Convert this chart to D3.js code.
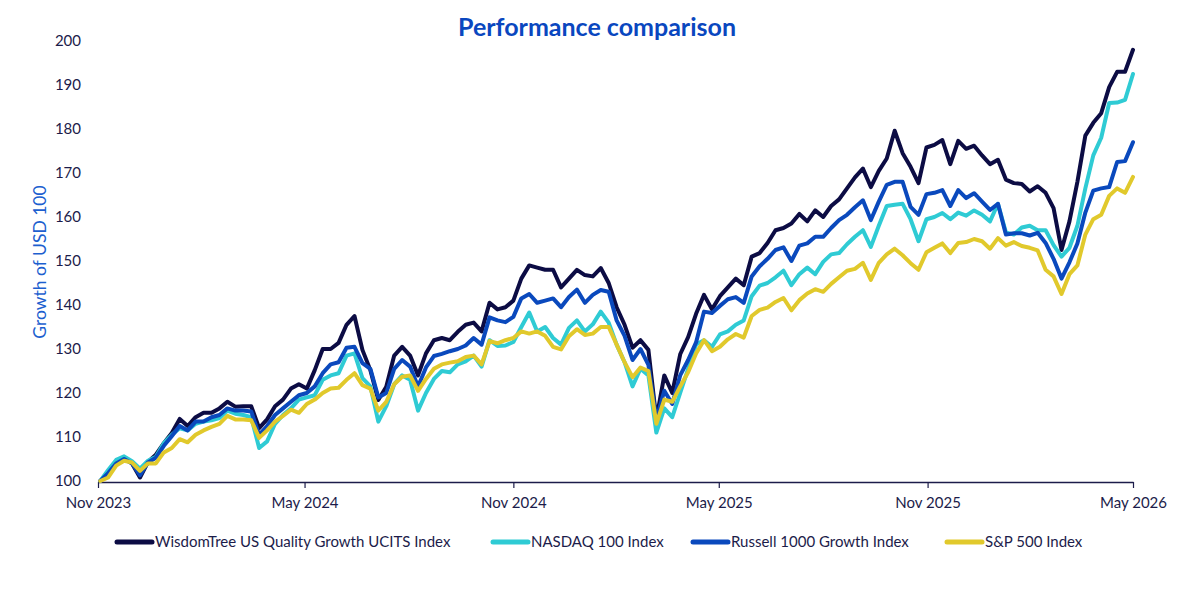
<!DOCTYPE html>
<html>
<head>
<meta charset="utf-8">
<script src="https://cdn.jsdelivr.net/npm/d3@7"></script>
<style>
  body { margin: 0; background: #fff; font-family: Lato, "Noto Sans", sans-serif; }
  svg { display: block; }
  .tick text { font-family: Lato, sans-serif; }
</style>
</head>
<body>
<script>
// Constant
const w = 1200;
const h = 592;

// Series names and colours (legend order)
const seriesNames = ['WisdomTree US Quality Growth UCITS Index', 'NASDAQ 100 Index', 'Russell 1000 Growth Index', 'S&P 500 Index'];
const seriesColors = ['#0c0c44', '#2fcbd4', '#0a49bd', '#e1c92c'];

// Axis ticks
const yTicks = [100, 110, 120, 130, 140, 150, 160, 170, 180, 190, 200];
const xTickDates = ['2023-11-01', '2024-05-01', '2024-11-01', '2025-05-01', '2025-11-01', '2026-05-01'];

// Weekly observations, first one on 3 Nov 2023
const startDate = '2023-11-03';

// Growth of USD 100
const wisdomTree = [100, 101.5, 104, 105.2, 104, 100.8, 104.3, 106, 108.6, 110.9,
  114.1, 112.5, 114.5, 115.5, 115.5, 116.5, 118, 116.9, 117, 117,
  112, 114, 117, 118.5, 121, 122, 121, 125.2, 130, 130,
  131.4, 135.5, 137.5, 129.8, 125.2, 118.4, 121.4, 128.5, 130.5, 128.5,
  124, 129, 132, 132.5, 132, 133.9, 135.5, 136, 134, 140.5,
  139, 139.5, 141, 146, 149, 148.5, 148, 148, 144, 146,
  148, 146.8, 146.5, 148.4, 145, 139.5, 135.5, 130.3, 132, 129.8,
  114, 124, 120, 128.8, 132.7, 138, 142.3, 139, 142, 144,
  146, 144.5, 151, 151.8, 154.1, 157, 157.5, 158.5, 160.7, 159,
  161.5, 160, 162.5, 164, 166.5, 169, 171, 166.8, 170.5, 173.3,
  179.6, 174.5, 171.4, 167.7, 175.8, 176.4, 177.5, 172, 177.3, 175.5,
  176.2, 174, 172, 173, 168.5, 167.7, 167.5, 165.8, 167, 165.5,
  162, 152.5, 159, 168, 178.5, 181.4, 183.6, 189.5, 193, 193,
  198];

const nasdaq = [100, 102.5, 104.8, 105.6, 104.5, 102.8, 104.6, 105.5, 108.6, 110.5,
  112, 111.5, 113, 113.5, 113.8, 114.3, 116, 115.3, 115, 114.5,
  107.5, 109, 113, 115, 116.5, 118.5, 119, 119.5, 123, 124,
  124.5, 128.5, 129, 123.4, 121.5, 113.5, 117, 122, 124, 123,
  116, 120, 123.2, 125, 124.7, 126.5, 127.2, 128.5, 126, 132,
  130.7, 130.8, 131.6, 135, 138.3, 134, 135, 132.5, 131, 134.8,
  136.5, 134, 135.6, 138.5, 136, 131, 127, 121.5, 125.5, 124,
  111, 116.5, 114.5, 120, 125.5, 131, 132, 130.5, 133.3, 134,
  135.5, 136.5, 142, 144.4, 145, 146.3, 147.8, 144.5, 147, 148.5,
  147, 149.8, 151.5, 151.8, 153.8, 155.5, 157, 153.2, 158, 162.5,
  162.8, 163, 159.5, 154.5, 159.5, 160, 160.9, 159.5, 161, 160.3,
  161.5, 160.5, 159, 163, 156.5, 156, 157.6, 158, 157, 157,
  153.6, 151, 153, 158, 166.5, 174, 178, 185.9, 186, 186.6,
  192.5];

const russell = [100, 101.8, 104, 105, 104, 101.3, 104.2, 105.3, 108, 110.2,
  112.5, 111.5, 113.5, 113.5, 114.5, 115, 116.5, 116, 116, 115.8,
  110.5, 112.5, 115, 116.5, 118, 119.5, 120, 121.5, 124.5, 126.5,
  127, 130.3, 130.5, 126.8, 125.5, 119, 120, 125.5, 127.5, 126,
  121.5, 125.8, 128.4, 128.9, 129.5, 130, 130.8, 132.5, 131, 137.2,
  136.5, 136.1, 137.3, 141.5, 142.5, 140.5, 141, 141.5, 139.5, 141.8,
  143.5, 140.5, 142.3, 143.4, 143, 136.5, 133, 127.5, 130, 126.4,
  114, 120.5, 117.5, 124, 127.5, 131.5, 138.5, 138.2, 139.8, 141.3,
  141.8, 140.5, 146.5, 148.8, 150.5, 152.5, 153.1, 150, 153.5, 154,
  155.5, 155.5, 157.5, 159.3, 160.5, 162.2, 163.8, 159.3, 163.5, 167.3,
  168, 168, 162.3, 160.5, 165.2, 165.5, 166.1, 162.5, 166.1, 164.3,
  165.4, 163.5, 161.6, 163, 156, 156.3, 156.3, 155.8, 156.4, 154.1,
  150.5, 146, 149.7, 154, 161, 166, 166.5, 166.8, 172.5, 172.7,
  177];

const sp500 = [100, 100.8, 103.5, 104.6, 104.2, 102.3, 104, 104, 106.5, 107.5,
  109.5, 108.8, 110.5, 111.5, 112.3, 113, 114.8, 114, 114, 113.8,
  109.8, 111.5, 113.5, 114.8, 116.2, 115.5, 117.5, 118.5, 120, 121,
  121.2, 123, 124.5, 121.8, 121, 116, 118, 122, 123.7, 124,
  120.5, 123.2, 125.5, 126.5, 126.9, 127.2, 128.2, 128.5, 126.5, 131.8,
  131.3, 132, 132.5, 134, 133.5, 134, 133, 130.5, 129.9, 132.9,
  134.5, 133.2, 133.5, 135, 135, 131, 127, 123.6, 125.8, 125,
  113, 118.5, 118, 121.5, 124.7, 129, 132, 129.5, 130.5, 132.2,
  133.4, 132.6, 137.5, 138.9, 139.4, 140.7, 141.6, 138.8, 141.1, 142.6,
  143.6, 143, 144.8, 146.3, 147.8, 148.2, 149.6, 145.7, 149.6, 151.5,
  152.8, 151.3, 149.5, 148, 152, 153, 154, 151.8, 154.1, 154.3,
  155, 154.5, 152.8, 155.2, 153.5, 154.3, 153.4, 153, 152.4, 148,
  146.5, 142.5, 147, 149, 156, 159.5, 160.5, 164.8, 166.5, 165.5,
  169.1];

const seriesValues = [wisdomTree, nasdaq, russell, sp500];

// Build the table used by the line generator
const parse = d3.timeParse('%Y-%m-%d');
const dates = wisdomTree.map((v, i) => d3.timeWeek.offset(parse(startDate), i));
const series = seriesNames.map((name, j) => ({
  name: name,
  color: seriesColors[j],
  values: seriesValues[j].map((v, i) => ({ date: dates[i], value: v }))
}));

// Create the svg canvas
const svg = d3.select('body')
  .append('svg')
  .attr('width', w)
  .attr('height', h);

// Scales
const x = d3.scaleTime()
  .domain([parse(xTickDates[0]), parse(xTickDates[xTickDates.length - 1])])
  .range([98, 1133]);
const y = d3.scaleLinear()
  .domain([100, 200])
  .range([481, 41]);

// Title
svg.append('text')
  .attr('x', 597)
  .attr('y', 36)
  .attr('text-anchor', 'middle')
  .style('font-family', 'Lato, sans-serif')
  .style('font-weight', 'bold')
  .style('font-size', '25px')
  .style('fill', '#0a47bf')
  .text('Performance comparison');

// Y axis (labels only)
const yAxis = svg.append('g')
  .attr('transform', 'translate(98,0)')
  .call(d3.axisLeft(y).tickValues(yTicks).tickSize(0).tickPadding(17));
yAxis.select('.domain').remove();
yAxis.selectAll('text')
  .style('font-size', '15px')
  .style('fill', '#1c1c4a');

svg.append('text')
  .attr('transform', 'translate(46,262) rotate(-90)')
  .attr('text-anchor', 'middle')
  .style('font-family', 'Lato, sans-serif')
  .style('font-size', '17.5px')
  .style('fill', '#1d5fcf')
  .text('Growth of USD 100');

// X axis
const xAxis = svg.append('g')
  .attr('transform', 'translate(0,482)')
  .call(d3.axisBottom(x)
    .tickValues(xTickDates.map(parse))
    .tickFormat(d3.timeFormat('%b %Y'))
    .tickSize(6)
    .tickSizeOuter(0)
    .tickPadding(9));
xAxis.select('.domain').style('stroke', '#1c1c4a').style('stroke-width', 1.5);
xAxis.selectAll('line').style('stroke', '#1c1c4a').style('stroke-width', 1.2);
xAxis.selectAll('text')
  .style('font-size', '15px')
  .style('fill', '#1c1c4a');

// Lines
const line = d3.line()
  .x((d) => x(d.date))
  .y((d) => y(d.value));

svg.selectAll('path.series')
  .data(series)
  .enter()
  .append('path')
  .attr('class', 'series')
  .attr('d', (d) => line(d.values))
  .style('fill', 'none')
  .style('stroke', (d) => d.color)
  .style('stroke-width', 4)
  .style('stroke-linejoin', 'round')
  .style('stroke-linecap', 'round');

// Legend
const legendX = [117, 493, 693, 947];
const legend = svg.selectAll('g.legend')
  .data(series)
  .enter()
  .append('g')
  .attr('class', 'legend')
  .attr('transform', (d, i) => 'translate(' + legendX[i] + ',542)');

legend.append('line')
  .attr('x1', 0)
  .attr('x2', 35)
  .style('stroke', (d) => d.color)
  .style('stroke-width', 5)
  .style('stroke-linecap', 'round');

legend.append('text')
  .attr('x', 38)
  .attr('dy', '0.35em')
  .style('font-family', 'Lato, sans-serif')
  .style('font-size', '15px')
  .style('fill', '#1c1c4a')
  .text((d) => d.name);
</script>
</body>
</html>
